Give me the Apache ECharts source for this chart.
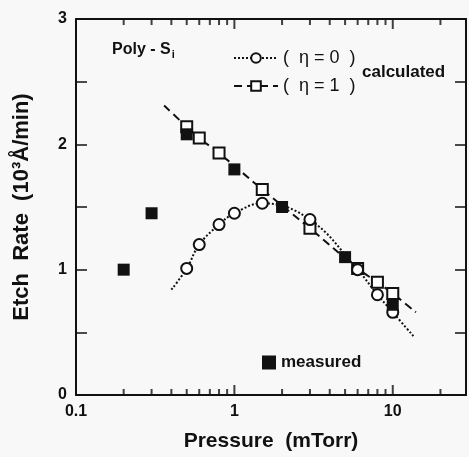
<!DOCTYPE html>
<html>
<head>
<meta charset="utf-8">
<script src="https://cdn.jsdelivr.net/npm/echarts@6/dist/echarts.min.js"></script>
<style>
html, body { margin: 0; padding: 0; background: #f8f8f8; }
#chart { width: 469px; height: 457px; }
</style>
</head>
<body>
<div id="chart"></div>
<script>
// measured etch rate (filled squares)
const measured = [[0.2, 1.0], [0.3, 1.45], [0.5, 2.08], [1.0, 1.8], [2.0, 1.5], [5.0, 1.1], [10, 0.72]]
// calculated, eta = 0 (open circles, dotted curve)
const eta0Points = [[0.5, 1.01], [0.6, 1.2], [0.8, 1.36], [1.0, 1.45], [1.5, 1.53], [3.0, 1.4], [6.0, 1.0], [8.0, 0.8], [10, 0.66]]
const eta0Ends = [[0.4, 0.84], [13.5, 0.47]]
// calculated, eta = 1 (open squares, dashed curve)
const eta1Points = [[0.5, 2.14], [0.6, 2.05], [0.8, 1.93], [1.5, 1.64], [3.0, 1.33], [6.0, 1.01], [8.0, 0.9], [10, 0.81]]
const eta1Ends = [[0.36, 2.31], [14, 0.66]]

const xMin = 0.1
const xMax = 29
const yMin = 0
const yMax = 3
const xMajor = [0.1, 1, 10]
const xMinor = [0.2, 0.3, 0.4, 0.5, 0.6, 0.7, 0.8, 0.9, 2, 3, 4, 5, 6, 7, 8, 9, 20]

const font = '"Liberation Sans", Arial, sans-serif'
const lineCol = '#111'
const tickNames = ['tickBottomMajor', 'tickBottomMinor', 'tickTopMajor', 'tickTopMinor']

function curve(ends, pts) {
	const list = [{ value: ends[0], symbol: 'none' }]
	pts.forEach(p => list.push({ value: p }))
	list.push({ value: ends[1], symbol: 'none' })
	return list
}

// log-axis tick marks drawn as thin rect symbols sitting on the bottom / top frame
function tickSeries(name, values, len, atTop) {
	return {
		name: name,
		type: 'scatter',
		data: values.map(v => [v, atTop ? yMax : yMin]),
		symbol: 'rect',
		symbolSize: [2, len],
		symbolOffset: [0, atTop ? len / 2 : -len / 2],
		itemStyle: { color: lineCol }
	}
}

const chart = echarts.init(document.getElementById('chart'))
chart.setOption({
	backgroundColor: '#f8f8f8',
	animation: false,
	grid: { left: 76, top: 19, right: -3, bottom: 57 },
	xAxis: [
		{
			type: 'log',
			logBase: 10,
			min: xMin,
			max: xMax,
			position: 'bottom',
			name: 'Pressure  (mTorr)',
			nameLocation: 'middle',
			nameGap: 36,
			nameTextStyle: { fontFamily: font, fontSize: 21, fontWeight: 'bold', color: lineCol },
			axisLine: { show: true, onZero: false, lineStyle: { color: lineCol, width: 2 } },
			axisTick: { show: false },
			axisLabel: { fontFamily: font, fontSize: 16, fontWeight: 'bold', color: lineCol, margin: 9, formatter: v => (xMajor.includes(v) ? String(v) : '') },
			splitLine: { show: false },
			minorTick: { show: false }
		},
		{
			type: 'log',
			logBase: 10,
			min: xMin,
			max: xMax,
			position: 'top',
			axisLine: { show: true, onZero: false, lineStyle: { color: lineCol, width: 2 } },
			axisTick: { show: false },
			axisLabel: { show: false },
			splitLine: { show: false }
		}
	],
	yAxis: [
		{
			type: 'value', min: yMin, max: yMax, interval: 0.5, position: 'left',
			name: 'Etch  Rate  (10³Å/min)',
			nameLocation: 'middle',
			nameGap: 43,
			nameTextStyle: { fontFamily: font, fontSize: 22, fontWeight: 'bold', color: lineCol },
			axisLine: { show: true, onZero: false, lineStyle: { color: lineCol, width: 2 } },
			axisTick: { show: true, inside: true, length: 11, lineStyle: { color: lineCol, width: 1.5 } },
			axisLabel: { fontFamily: font, fontSize: 16, fontWeight: 'bold', color: lineCol, margin: 9, formatter: v => (v % 1 === 0 ? String(v) : '') },
			splitLine: { show: false }
		},
		{
			type: 'value', min: yMin, max: yMax, interval: 0.5, position: 'right',
			axisLine: { show: true, onZero: false, lineStyle: { color: lineCol, width: 2 } },
			axisTick: { show: true, inside: true, length: 11, lineStyle: { color: lineCol, width: 1.5 } },
			axisLabel: { show: false },
			splitLine: { show: false }
		}
	],
	legend: [
		{
			data: ['(  η = 0  )', '(  η = 1  )'],
			orient: 'vertical',
			left: 228,
			top: 44,
			itemWidth: 44,
			itemHeight: 12,
			itemGap: 10,
			textStyle: { fontFamily: font, fontSize: 18, color: lineCol }
		},
		{
			data: ['measured'],
			left: 257,
			top: 349,
			itemWidth: 14,
			itemHeight: 14,
			itemGap: 8,
			textStyle: { fontFamily: font, fontSize: 17, fontWeight: 'bold', color: lineCol }
		},
		{
			// hidden legend so the tick series stay registered and visible
			show: false,
			data: tickNames
		}
	],
	graphic: [
		{
			type: 'text', left: 112, top: 42,
			style: {
				text: 'Poly - S{sub|i}',
				fontFamily: font, fontSize: 16, fontWeight: 'bold', fill: lineCol,
				rich: { sub: { fontFamily: font, fontSize: 11, fontWeight: 'bold', padding: [9, 0, 0, 1], fill: lineCol } }
			}
		},
		{
			type: 'text', left: 362, top: 64,
			style: { text: 'calculated', fontFamily: font, fontSize: 17, fontWeight: 'bold', fill: lineCol }
		}
	],
	series: [
		tickSeries(tickNames[0], xMajor, 10, false),
		tickSeries(tickNames[1], xMinor, 6, false),
		tickSeries(tickNames[2], xMajor, 10, true),
		tickSeries(tickNames[3], xMinor, 6, true),
		{
			name: '(  η = 0  )',
			type: 'line',
			smooth: 0.4,
			data: curve(eta0Ends, eta0Points),
			symbol: 'circle',
			symbolSize: 11,
			itemStyle: { color: '#fff', borderColor: lineCol, borderWidth: 2 },
			lineStyle: { color: lineCol, width: 2, type: [2, 2] },
			z: 3
		},
		{
			name: '(  η = 1  )',
			type: 'line',
			smooth: 0.4,
			data: curve(eta1Ends, eta1Points),
			symbol: 'rect',
			symbolSize: 11,
			itemStyle: { color: '#fff', borderColor: lineCol, borderWidth: 2 },
			lineStyle: { color: lineCol, width: 2, type: [8, 5] },
			z: 2
		},
		{
			name: 'measured',
			type: 'scatter',
			data: measured,
			symbol: 'rect',
			symbolSize: 12,
			itemStyle: { color: lineCol, opacity: 1 },
			z: 4
		}
	]
})
</script>
</body>
</html>
